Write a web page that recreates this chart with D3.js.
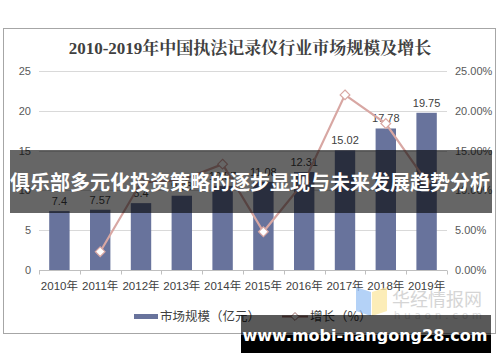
<!DOCTYPE html>
<html>
<head>
<meta charset="utf-8">
<script src="https://cdn.jsdelivr.net/npm/d3@7"></script>
<style>
  body { margin: 0; background: #fff; }
  svg { display: block; }
</style>
</head>
<body>
<div id="main"></div>
<script>
// chart data
const years = ['2010年', '2011年', '2012年', '2013年', '2014年', '2015年', '2016年', '2017年', '2018年', '2019年'];
const marketSize = [7.4, 7.57, 8.4, 9.33, 10.57, 11.08, 12.31, 15.02, 17.78, 19.75];
const growth = [null, 2.3, 11.0, 11.3, 13.3, 4.8, 11.1, 22.0, 18.4, 11.1];
const leftTicks = [0, 5, 10, 15, 20, 25];
const rightTicks = [0, 5, 10, 15, 20, 25];

const width = 500, height = 362;
const margin = { top: 71, bottom: 92, left: 39, right: 54 };
const barColor = '#68739c';
const lineColor = '#d8a7a3';
const sansFont = '"Liberation Sans", Arial, "Noto Sans CJK SC", sans-serif';

const svg = d3.select('#main')
  .append('svg')
  .attr('width', width)
  .attr('height', height);

// outer frame
svg.append('rect')
  .attr('x', 3.5).attr('y', 28.5)
  .attr('width', 492).attr('height', 305)
  .attr('fill', '#fff')
  .attr('stroke', '#a6a6a6');

svg.append('text')
  .attr('x', 250).attr('y', 54)
  .attr('text-anchor', 'middle')
  .attr('font-family', '"Liberation Serif", "Noto Serif CJK SC", "Noto Sans CJK SC", serif')
  .attr('font-weight', 'bold')
  .attr('font-size', '17px')
  .attr('fill', '#404040')
  .text('2010-2019年中国执法记录仪行业市场规模及增长');

const x = d3.scaleBand()
  .domain(years)
  .range([margin.left, width - margin.right + 1])
  .paddingInner(0.5)
  .paddingOuter(0.25);

const y = d3.scaleLinear()
  .domain([0, 25])
  .range([height - margin.bottom, margin.top]);

const y2 = d3.scaleLinear()
  .domain([0, 0.25])
  .range([height - margin.bottom, margin.top]);

// gridlines
svg.append('g')
  .selectAll('line')
  .data(leftTicks.filter(d => d > 0))
  .join('line')
    .attr('x1', margin.left)
    .attr('x2', width - margin.right + 1)
    .attr('y1', d => Math.round(y(d)) + 0.5)
    .attr('y2', d => Math.round(y(d)) + 0.5)
    .attr('stroke', '#d9d9d9');

// left axis
svg.append('g')
  .attr('transform', `translate(${margin.left - 8}, 0)`)
  .call(d3.axisLeft(y).tickValues(leftTicks).tickSize(0).tickPadding(0))
  .call(g => g.select('.domain').remove())
  .call(g => g.selectAll('text')
    .attr('font-family', sansFont)
    .attr('font-size', '11px')
    .attr('fill', '#595959'));

// right axis
svg.append('g')
  .attr('transform', `translate(${width - margin.right + 9}, 0)`)
  .call(d3.axisRight(y2).tickValues(rightTicks.map(d => d / 100)).tickFormat(d3.format('.2%')).tickSize(0).tickPadding(0))
  .call(g => g.select('.domain').remove())
  .call(g => g.selectAll('text')
    .attr('font-family', sansFont)
    .attr('font-size', '11px')
    .attr('fill', '#595959'));

// bars
svg.append('g')
  .attr('fill', barColor)
  .selectAll('rect')
  .data(marketSize)
  .join('rect')
    .attr('x', (d, i) => x(years[i]))
    .attr('y', d => y(d))
    .attr('width', x.bandwidth())
    .attr('height', d => y(0) - y(d));

// bar labels
svg.append('g')
  .selectAll('text')
  .data(marketSize)
  .join('text')
    .attr('x', (d, i) => x(years[i]) + x.bandwidth() / 2)
    .attr('y', d => y(d) - 6)
    .attr('text-anchor', 'middle')
    .attr('font-family', sansFont)
    .attr('font-size', '11px')
    .attr('fill', '#404040')
    .text(d => d);

// x axis
const baseY = Math.round(y(0)) + 0.5;
const xAxis = svg.append('g');
xAxis.append('line')
  .attr('x1', margin.left).attr('x2', width - margin.right + 1)
  .attr('y1', baseY).attr('y2', baseY)
  .attr('stroke', '#bfbfbf');
xAxis.selectAll('.tick')
  .data(d3.range(years.length + 1))
  .join('line')
    .attr('class', 'tick')
    .attr('x1', i => Math.round(margin.left + i * x.step()) + 0.5)
    .attr('x2', i => Math.round(margin.left + i * x.step()) + 0.5)
    .attr('y1', baseY).attr('y2', baseY + 4)
    .attr('stroke', '#bfbfbf');
xAxis.selectAll('text')
  .data(years)
  .join('text')
    .attr('x', d => x(d) + x.bandwidth() / 2)
    .attr('y', baseY + 19)
    .attr('text-anchor', 'middle')
    .attr('font-family', sansFont)
    .attr('font-size', '11.5px')
    .attr('fill', '#404040')
    .text(d => d);

// growth line
const pts = growth.map((g, i) => ({ g, year: years[i] })).filter(d => d.g !== null);
const line = d3.line()
  .x(d => x(d.year) + x.bandwidth() / 2)
  .y(d => y2(d.g / 100));

svg.append('path')
  .datum(pts)
  .attr('d', line)
  .attr('fill', 'none')
  .attr('stroke', lineColor)
  .attr('stroke-width', 2.2);

svg.append('g')
  .selectAll('path')
  .data(pts)
  .join('path')
    .attr('transform', d => `translate(${x(d.year) + x.bandwidth() / 2},${y2(d.g / 100)})`)
    .attr('d', d3.symbol(d3.symbolDiamond2, 60))
    .attr('fill', '#fff')
    .attr('stroke', lineColor)
    .attr('stroke-width', 1.2);

// legend
const legend = svg.append('g');
legend.append('rect')
  .attr('x', 134).attr('y', 314)
  .attr('width', 24).attr('height', 5)
  .attr('fill', barColor);
legend.append('text')
  .attr('x', 160).attr('y', 321)
  .attr('font-family', '"Noto Sans CJK SC", sans-serif')
  .attr('font-size', '12.5px')
  .attr('fill', '#404040')
  .text('市场规模（亿元）');
legend.append('line')
  .attr('x1', 282).attr('x2', 308)
  .attr('y1', 316.5).attr('y2', 316.5)
  .attr('stroke', '#a0706c')
  .attr('stroke-width', 2);
legend.append('path')
  .attr('transform', 'translate(295,316.5)')
  .attr('d', d3.symbol(d3.symbolDiamond2, 40))
  .attr('fill', '#fff')
  .attr('stroke', '#a0706c');
legend.append('text')
  .attr('x', 310).attr('y', 321)
  .attr('font-family', '"Noto Sans CJK SC", sans-serif')
  .attr('font-size', '12.5px')
  .attr('fill', '#404040')
  .text('增长（%）');

// huaon watermark
const wm = svg.append('g').attr('opacity', 0.75);
wm.append('path')
  .attr('d', 'M356,287 L371,292 L371,316 L356,311 Z')
  .attr('fill', '#9cc3f5');
wm.append('path')
  .attr('d', 'M372,292 L387,287 L387,311 L372,316 Z')
  .attr('fill', '#fbe7a1');
wm.append('text')
  .attr('x', 392).attr('y', 306)
  .attr('font-family', '"Noto Sans CJK SC", sans-serif')
  .attr('font-size', '18px')
  .attr('fill', '#c8c8c8')
  .text('华经情报网');
wm.append('text')
  .attr('x', 394).attr('y', 319)
  .attr('font-family', '"DejaVu Sans", sans-serif')
  .attr('font-size', '10px')
  .attr('letter-spacing', '4px')
  .attr('fill', '#d0d0d0')
  .text('huaon.com');

// banner overlay
svg.append('rect')
  .attr('x', 10).attr('y', 150)
  .attr('width', 482).attr('height', 63)
  .attr('fill', 'rgba(0,0,0,0.6)');
svg.append('text')
  .attr('x', 250).attr('y', 190)
  .attr('text-anchor', 'middle')
  .attr('font-family', '"Noto Sans CJK SC", sans-serif')
  .attr('font-weight', 'bold')
  .attr('font-size', '20px')
  .attr('fill', '#fff')
  .text('俱乐部多元化投资策略的逐步显现与未来发展趋势分析');

// site label
svg.append('rect')
  .attr('x', 241).attr('y', 315)
  .attr('width', 250).attr('height', 38)
  .attr('fill', 'rgba(0,0,0,0.65)');
svg.append('rect')
  .attr('x', 241).attr('y', 335)
  .attr('width', 250).attr('height', 18)
  .attr('fill', '#000');
svg.append('text')
  .attr('x', 365).attr('y', 341)
  .attr('text-anchor', 'middle')
  .attr('font-family', '"DejaVu Sans", sans-serif')
  .attr('font-weight', 'bold')
  .attr('font-size', '16px')
  .attr('fill', '#fff')
  .text('www.mobi-nangong28.com');
</script>
</body>
</html>
